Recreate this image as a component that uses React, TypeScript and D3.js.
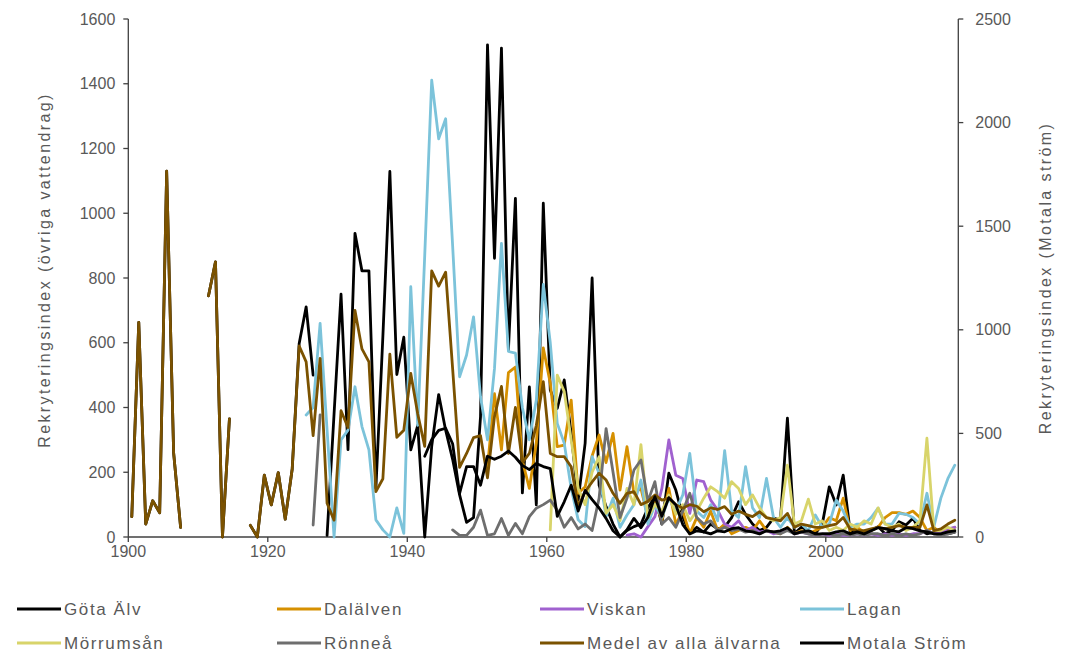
import React from 'react';
import * as d3 from 'd3';

// categories
const firstYear = 1900;
const lastYear = 2018;
const xTickYears = [1900, 1920, 1940, 1960, 1980, 2000];
const leftTicks = [0, 200, 400, 600, 800, 1000, 1200, 1400, 1600];
const rightTicks = [0, 500, 1000, 1500, 2000, 2500];

// series (values per year, starting at the given start year; null = missing)
const gotaStart = 1900;
const gotaAlv = [
  63, 663, 40, 112, 75, 1130, 260, 30, null, null,
  null, 745, 850, 0, 365, null, null, 36, 0, 191,
  99, 199, 55, 210, 598, 711, 500, null, 5, 380,
  750, 270, 938, 822, 822, 150, 620, 1129, 502, 617,
  269, 345, 0, 280, 440, 330, 240, 130, 45, 60,
  372, 1520, 861, 1510, 578, 1046, 136, 464, 99, 1031,
  454, 397, 485, 320, 114, 290, 800, 160, 94, 40,
  0, 20, 32, 40, 90, 124, 40, 197, 145, 63,
  11, 30, 15, 40, 25, 30, 60, 109, 70, 40,
  20, 30, 58, 52, 367, 11, 30, 20, 10, 40,
  155, 99, 191, 16, 11, 15, 20, 32, 10, 20,
  47, 37, 58, 20, 10, 15, 10, 10, 15,
];

const dalStart = 1951;
const dalalven = [
  215, 443, 269, 508, 525, 236, 150, 290, 584,
  475, 279, 284, 423, 135, 155, 250, 315, 230, 320,
  145, 279, 135, 150, 60, 110, 50, 150, 40, 80,
  10, 60, 30, 80, 20, 40, 10, 20, 30, 20,
  50, 20, 15, 10, 30, 10, 20, 10, 20, 30,
  60, 50, 120, 20, 30, 15, 20, 30, 60, 75,
  75, 70, 80, 60, 20, 30, 10, 20, 30,
];

const viskanStart = 1971;
const viskan = [
  6, 10, 0, 32, 63, 150, 300, 191, 181,
  73, 176, 171, 114, 83, 40, 30, 50, 20, 30,
  15, 20, 10, 15, 25, 10, 15, 10, 5, 10,
  5, 10, 5, 5, 10, 5, 10, 5, 10, 5,
  10, 5, 10, 10, 20, 10, 15, 25, 30,
];

const laganStart = 1925;
const lagan = [
  377, 400, 660, 330, 0,
  300, 330, 464, 341, 269, 53, 22, 0, 90, 11,
  773, 345, 870, 1411, 1230, 1292, 900, 495, 562, 680,
  433, 300, 520, 907, 573, 568, 400, 300, 423, 780,
  600, 351, 290, 150, 53, 32, 248, 197, 63, 120,
  30, 68, 100, 176, 40, 100, 60, 120, 80, 130,
  258, 80, 60, 100, 50, 267, 80, 60, 217, 90,
  60, 181, 60, 30, 60, 30, 40, 20, 68, 30,
  40, 114, 80, 30, 40, 40, 60, 89, 40, 40,
  73, 70, 60, 40, 135, 32, 120, 180, 222,
];

const morrumStart = 1960;
const morrumsan = [
  22, 500, 449, 300, 150, 100, 200, 248, 73, 100,
  50, 150, 100, 285, 60, 100, 80, 130, 70, 100,
  50, 80, 120, 155, 140, 120, 171, 150, 100, 130,
  90, 60, 50, 60, 222, 40, 50, 117, 40, 50,
  20, 30, 20, 40, 30, 50, 40, 90, 40, 30,
  40, 20, 30, 50, 305, 20, 20, 30, 20,
];

const ronneStart = 1926;
const ronnea = [
  37, 377, null, null,
  null, null, null, null, null, null, null, null, null, null,
  null, null, null, null, null, null, 22, 5, 5, 30,
  83, 5, 10, 57, 5, 42, 10, 63, 89, 100,
  114, 83, 30, 60, 25, 40, 20, 120, 335, 200,
  60, 120, 207, 238, 110, 171, 40, 60, 30, 80,
  135, 60, 40, 50, 20, 30, 20, 25, 15, 20,
  10, 20, 15, 10, 20, 10, 15, 10, 5, 10,
  10, 5, 10, 5, 10, 5, 10, 10, 5, 10,
  5, 10, 5, 10, 20, 10, 5, 10, 15,
];

const medelStart = 1900;
const medel = [
  63, 663, 40, 112, 75, 1130, 260, 30, null, null,
  null, 745, 850, 0, 365, null, null, 36, 0, 191,
  99, 199, 55, 210, 590, 541, 313, 552, 104, 52,
  390, 338, 700, 581, 541, 140, 180, 565, 308, 330,
  505, 380, 280, 822, 775, 818, 520, 215, 258, 307,
  313, 183, 372, 465, 258, 400, 230, 258, 345, 480,
  258, 248, 248, 217, 94, 140, 170, 197, 176, 135,
  104, 135, 140, 100, 110, 130, 114, 120, 100, 89,
  100, 95, 78, 90, 85, 94, 70, 80, 70, 63,
  78, 60, 55, 50, 73, 30, 40, 35, 30, 30,
  35, 40, 60, 25, 20, 20, 25, 30, 25, 30,
  35, 30, 30, 30, 99, 20, 25, 40, 52,
];

// Motala Ström, right axis units
const motalaStart = 1942;
const motalaStrom = [
  390, 470, 515, 525, 450, 210, 340, 340,
  250, 390, 375, 390, 415, 385, 345, 325, 355, 340,
  330, 100, 170, 250, 125, 225, 180, 140, 90, 30,
  0, 35, 90, 45, 95, 195, 100, 190, 155, 60,
  15, 30, 25, 15, 30, 25, 40, 45, 30, 25,
  15, 30, 25, 30, 45, 15, 25, 30, 15, 15,
  15, 25, 30, 15, 25, 15, 30, 45, 40, 30,
  25, 45, 40, 30, 25, 15, 15, 25, 30,
];

const seriesNames = ['Göta Älv', 'Dalälven', 'Viskan', 'Lagan', 'Mörrumsån', 'Rönneå', 'Medel av alla älvarna', 'Motala Ström'];
const seriesColors = ['#000000', '#D69000', '#A061CF', '#7CC3DA', '#D8D46A', '#6E6E6E', '#7B5200', '#000000'];
const seriesStarts = [gotaStart, dalStart, viskanStart, laganStart, morrumStart, ronneStart, medelStart, motalaStart];
const seriesValues = [gotaAlv, dalalven, viskan, lagan, morrumsan, ronnea, medel, motalaStrom];
const seriesAxis = ['left', 'left', 'left', 'left', 'left', 'left', 'left', 'right'];

const FONT = "'Liberation Sans', Arial, sans-serif";
const TXT = '#595959';

export default function App() {
  const W = 1076, H = 654;
  const x0 = 128.3, x1 = 958.3, yTop = 19, yBot = 537;
  const x = d3.scaleLinear().domain([firstYear, lastYear + 1]).range([x0, x1]);
  const yL = d3.scaleLinear().domain([0, 1600]).range([yBot, yTop]);
  const yR = d3.scaleLinear().domain([0, 2500]).range([yBot, yTop]);

  const paths = seriesValues.map((vals, si) => {
    const ys = seriesAxis[si] === 'right' ? yR : yL;
    const pts = vals.map((v, i) => ({ yr: seriesStarts[si] + i, v }));
    const line = d3.line<{ yr: number; v: number | null }>()
      .defined(d => d.v != null)
      .x(d => x(d.yr + 0.5))
      .y(d => ys(d.v as number));
    return line(pts) || '';
  });

  const legendCols = [17, 277, 540, 800];
  const legendRows = [609, 643];

  return (
    <svg width={W} height={H} style={{ position: 'absolute', left: 0, top: 0, background: '#fff' }} fontFamily={FONT}>
      <rect x={0} y={0} width={W} height={H} fill="#fff" />
      <defs>
        <clipPath id="plotclip"><rect x={x0} y={0} width={x1 - x0} height={yBot + 2} /></clipPath>
      </defs>
      {/* axes */}
      <line x1={x0} x2={x0} y1={yTop} y2={yBot} stroke="#404040" strokeWidth={1.3} />
      <line x1={x1} x2={x1} y1={yTop} y2={yBot} stroke="#404040" strokeWidth={1.3} />
      <line x1={x0} x2={x1} y1={yBot} y2={yBot} stroke="#404040" strokeWidth={1.3} />
      {leftTicks.map(t => (
        <g key={'l' + t}>
          <line x1={x0 - 5} x2={x0} y1={yL(t)} y2={yL(t)} stroke="#404040" strokeWidth={1.3} />
          <text x={x0 - 13} y={yL(t)} dy="0.35em" textAnchor="end" fontSize={16} fill={TXT}>{t}</text>
        </g>
      ))}
      {rightTicks.map(t => (
        <g key={'r' + t}>
          <line x1={x1} x2={x1 + 5} y1={yR(t)} y2={yR(t)} stroke="#404040" strokeWidth={1.3} />
          <text x={x1 + 17} y={yR(t)} dy="0.35em" textAnchor="start" fontSize={16} fill={TXT}>{t}</text>
        </g>
      ))}
      {xTickYears.map(t => (
        <g key={'x' + t}>
          <line x1={x(t)} x2={x(t)} y1={yBot} y2={yBot + 5} stroke="#404040" strokeWidth={1.3} />
          <text x={x(t)} y={yBot + 20} textAnchor="middle" fontSize={16} fill={TXT}>{t}</text>
        </g>
      ))}
      <text transform={`translate(50,${(yTop + yBot) / 2 - 8}) rotate(-90)`} textAnchor="middle" fontSize={16} fill={TXT} letterSpacing={2.4}>Rekryteringsindex (övriga vattendrag)</text>
      <text transform={`translate(1051,${(yTop + yBot) / 2}) rotate(-90)`} textAnchor="middle" fontSize={16} fill={TXT} letterSpacing={2.4}>Rekryteringsindex (Motala ström)</text>

      {/* series */}
      <g clipPath="url(#plotclip)">
        {paths.map((p, i) => (
          <path key={i} d={p} fill="none" stroke={seriesColors[i]} strokeWidth={2.8} strokeLinejoin="round" strokeLinecap="round" />
        ))}
      </g>

      {/* legend */}
      {seriesNames.map((n, i) => {
        const cx = legendCols[i % 4];
        const cy = legendRows[Math.floor(i / 4)];
        return (
          <g key={n}>
            <line x1={cx} x2={cx + 44} y1={cy} y2={cy} stroke={seriesColors[i]} strokeWidth={3} />
            <text x={cx + 47} y={cy} dy="0.35em" fontSize={17} fill={TXT} letterSpacing={1.6}>{n}</text>
          </g>
        );
      })}
    </svg>
  );
}
